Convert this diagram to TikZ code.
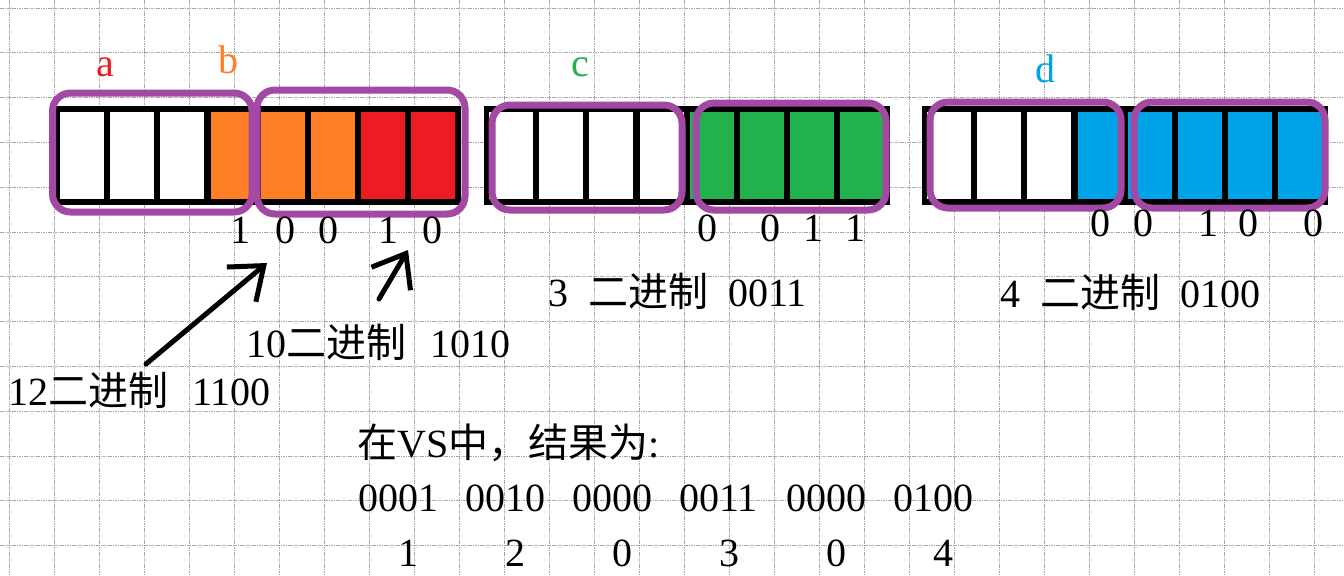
\documentclass[tikz,border=0pt]{standalone}
\usepackage{fontspec}
\setmainfont{Liberation Serif}
\newfontfamily\cjk{Noto Sans CJK SC}
\usepackage{tikz}
\usetikzlibrary{arrows.meta}
\definecolor{grp}{RGB}{163,73,164}
\definecolor{orng}{RGB}{255,127,39}
\definecolor{rd}{RGB}{237,28,36}
\definecolor{grn}{RGB}{34,177,76}
\definecolor{blu}{RGB}{0,162,232}

\begin{document}
\begin{tikzpicture}[x=0.75pt,y=-0.75pt]
  \tikzstyle{every node}=[font=\fontsize{30}{36}\selectfont,inner sep=0pt]
  \tikzstyle{gridline}=[gray!70,line width=0.6pt,dash pattern=on 1.2pt off 0.6pt]
  \tikzstyle{grpbox}=[draw=grp,line width=5.25pt,rounded corners=13.5pt]
  \tikzstyle{pointer}=[line width=3.75pt,line cap=round,-{Straight Barb[length=22pt,width=34pt]}]
  \useasboundingbox (0,0) rectangle (1344,575);
  \fill[white] (0,0) rectangle (1344,575);
  \foreach \x in {9,54,...,1344} \draw[gridline] (\x,0) -- (\x,575);
  \foreach \y in {8,52.8,...,575} \draw[gridline] (0,\y) -- (1344,\y);
  \foreach \bx/\cols in {55/{white,white,white,orng,orng,orng,rd,rd},
      484/{white,white,white,white,grn,grn,grn,grn},
      922/{white,white,white,blu,blu,blu,blu,blu}} {
    \fill (\bx,106) rectangle +(406,99);
    \foreach \c [count=\i from 0] in \cols
      \fill[\c] (\bx+5+50.2*\i,111.5) rectangle +(44,87.5);
  }
  \draw[grpbox] (52.5,93) rectangle (252,212);
  \draw[grpbox] (257,90) rectangle (465,214);
  \draw[grpbox] (492,105) rectangle (682,210);
  \draw[grpbox] (696,103) rectangle (886,210);
  \draw[grpbox] (930,102) rectangle (1121,208);
  \draw[grpbox] (1134,102) rectangle (1325,208);
  \node[text=rd,anchor=base] (la) at (105,76) {a};
  \node[text=orng,anchor=base] (lb) at (228,73) {b};
  \node[text=grn,anchor=base] (lc) at (580,76) {c};
  \node[text=blu,anchor=base] (ld) at (1045,82) {d};
  \foreach \x/\b [count=\i] in {240/1,285/0,328/0,388/1,432/0}
    \node[anchor=base] (p\i) at (\x,243) {\b};
  \foreach \x/\b [count=\i] in {707/0,770/0,813/1,855/1}
    \node[anchor=base] (q\i) at (\x,241) {\b};
  \foreach \x/\b [count=\i] in {1100/0,1143/0,1208/1,1248/0,1313/0}
    \node[anchor=base] (r\i) at (\x,236) {\b};
  \node[anchor=base west] (dec3) at (548,306) {3\hspace{15pt}{\cjk 二进制}\hspace{15pt}0011};
  \node[anchor=base west] (dec4) at (1000,307) {4\hspace{15pt}{\cjk 二进制}\hspace{15pt}0100};
  \node[anchor=base west] (dec10) at (246,357) {10{\cjk 二进制}\hspace{18pt}1010};
  \node[anchor=base west] (dec12) at (8,405) {12{\cjk 二进制}\hspace{18pt}1100};
  \coordinate (t12) at (146,364);
  \coordinate (h12) at (267,263);
  \coordinate (t10) at (379,299);
  \coordinate (h10) at (408,250);
  \draw[pointer] (t12) -- (h12);
  \draw[pointer] (t10) -- (h10);
  \node[anchor=base west] (res) at (357,457) {{\cjk 在}VS{\cjk 中，结果为}:};
  \foreach \g/\v [count=\i] in {0001/1,0010/2,0000/0,0011/3,0000/0,0100/4} {
    \node[anchor=base west] (g\i) at (358+107*\i-107,511) {\g};
    \node[anchor=base] (v\i) at (408+107*\i-107,566) {\v};
  }
\end{tikzpicture}
\end{document}
